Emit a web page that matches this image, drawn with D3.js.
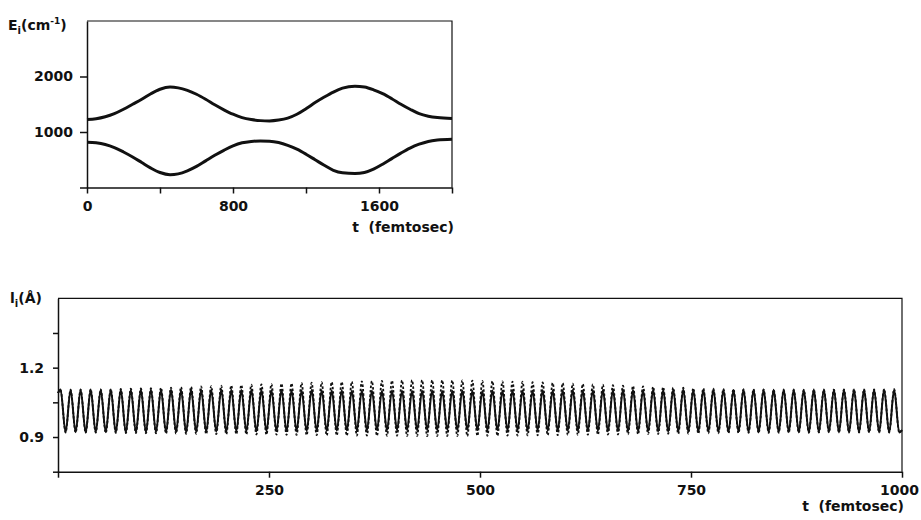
<!DOCTYPE html>
<html>
<head>
<meta charset="utf-8">
<script src="https://cdn.jsdelivr.net/npm/d3@7"></script>
<style>
  body { margin: 0; background: #fff; }
  svg text { font-family: "DejaVu Sans", sans-serif; font-weight: bold; font-size: 14px; fill: #111; }
  .axis path, .axis line { stroke: #111; stroke-width: 1.5; }
</style>
</head>
<body>
<svg id="chart" width="921" height="520"></svg>
<script>
// ---- Upper panel: mode energies E_i (cm^-1) versus time (fs) ----
const energyTime  = [0, 50, 100, 150, 200, 250, 300, 350, 400, 455, 500, 550, 600, 650, 700, 750, 800, 850, 900, 950,
                     1000, 1050, 1100, 1150, 1200, 1250, 1300, 1350, 1400, 1468, 1520, 1570, 1620, 1670, 1720, 1770, 1820, 1870, 1920, 2000];
const energyUpper = [1225, 1240, 1275, 1330, 1410, 1500, 1590, 1690, 1770, 1810, 1795, 1750, 1680, 1590, 1490, 1400, 1320, 1260, 1225, 1205,
                     1200, 1215, 1250, 1320, 1420, 1530, 1630, 1720, 1790, 1825, 1810, 1760, 1690, 1600, 1500, 1410, 1330, 1285, 1260, 1245];
const energyLower = [815, 805, 775, 720, 640, 550, 450, 350, 270, 230, 245, 300, 380, 480, 580, 670, 750, 805, 830, 840,
                     835, 810, 760, 690, 600, 500, 400, 310, 265, 252, 270, 330, 420, 520, 620, 710, 780, 830, 855, 870];
const energyXTicks = [0, 400, 800, 1200, 1600, 2000];
const energyXLabels = ["0", "", "800", "", "1600", ""];
const energyYTicks = [0, 1000, 2000];
const energyYLabels = ["", "1000", "2000"];

// ---- Lower panel: bond lengths l_i (Å) versus time (fs), given at turning points ----
const peakTimes = [3, 14.9, 26.8, 38.7, 50.6, 62.5, 74.4, 86.3, 98.2, 110.1,
  122, 133.9, 145.8, 157.7, 169.6, 181.5, 193.4, 205.3, 217.2, 229.1,
  241, 252.9, 264.8, 276.7, 288.6, 300.5, 312.4, 324.3, 336.2, 348.1,
  360, 371.9, 383.8, 395.7, 407.6, 419.5, 431.4, 443.3, 455.2, 467.1,
  479, 490.9, 502.8, 514.7, 526.6, 538.5, 550.4, 562.3, 574.2, 586.1,
  598, 609.9, 621.8, 633.7, 645.6, 657.5, 669.4, 681.3, 693.2, 705.1,
  717, 728.9, 740.8, 752.7, 764.6, 776.5, 788.4, 800.3, 812.2, 824.1,
  836, 847.9, 859.8, 871.7, 883.6, 895.5, 907.4, 919.3, 931.2, 943.1,
  955, 966.9, 978.8, 990.7];
const troughTimes = [9, 20.9, 32.8, 44.7, 56.6, 68.5, 80.4, 92.3, 104.2, 116.1,
  128, 139.9, 151.8, 163.7, 175.6, 187.5, 199.4, 211.3, 223.2, 235.1,
  247, 258.9, 270.8, 282.7, 294.6, 306.5, 318.4, 330.3, 342.2, 354.1,
  366, 377.9, 389.8, 401.7, 413.6, 425.5, 437.4, 449.3, 461.2, 473.1,
  485, 496.9, 508.8, 520.7, 532.6, 544.5, 556.4, 568.3, 580.2, 592.1,
  604, 615.9, 627.8, 639.7, 651.6, 663.5, 675.4, 687.3, 699.2, 711.1,
  723, 734.9, 746.8, 758.7, 770.6, 782.5, 794.4, 806.3, 818.2, 830.1,
  842, 853.9, 865.8, 877.7, 889.6, 901.5, 913.4, 925.3, 937.2, 949.1,
  961, 972.9, 984.8, 996.7];

const solidPeaks = [1.105, 1.104, 1.106, 1.105, 1.104, 1.106, 1.105, 1.104, 1.105, 1.106,
  1.104, 1.105, 1.103, 1.105, 1.104, 1.103, 1.105, 1.104, 1.103, 1.104,
  1.103, 1.102, 1.104, 1.102, 1.101, 1.103, 1.102, 1.101, 1.102, 1.100,
  1.101, 1.100, 1.099, 1.101, 1.100, 1.099, 1.100, 1.101, 1.099, 1.100,
  1.101, 1.100, 1.099, 1.101, 1.100, 1.102, 1.101, 1.100, 1.102, 1.101,
  1.102, 1.103, 1.101, 1.102, 1.103, 1.102, 1.104, 1.103, 1.102, 1.104,
  1.103, 1.104, 1.105, 1.103, 1.104, 1.105, 1.104, 1.103, 1.105, 1.104,
  1.105, 1.104, 1.106, 1.105, 1.104, 1.105, 1.106, 1.104, 1.105, 1.106,
  1.105, 1.104, 1.106, 1.105];
const solidTroughs = [0.920, 0.921, 0.919, 0.920, 0.921, 0.920, 0.919, 0.921, 0.920, 0.921,
  0.921, 0.922, 0.921, 0.923, 0.922, 0.924, 0.923, 0.924, 0.925, 0.924,
  0.925, 0.926, 0.925, 0.927, 0.926, 0.928, 0.927, 0.928, 0.929, 0.928,
  0.929, 0.930, 0.929, 0.930, 0.931, 0.930, 0.931, 0.930, 0.931, 0.930,
  0.931, 0.930, 0.929, 0.930, 0.929, 0.930, 0.928, 0.929, 0.928, 0.927,
  0.928, 0.927, 0.926, 0.927, 0.925, 0.926, 0.925, 0.924, 0.925, 0.924,
  0.923, 0.924, 0.923, 0.922, 0.923, 0.922, 0.921, 0.922, 0.921, 0.920,
  0.921, 0.920, 0.921, 0.920, 0.919, 0.920, 0.921, 0.920, 0.919, 0.920,
  0.921, 0.920, 0.919, 0.920];
const dashPeaks = [1.104, 1.105, 1.105, 1.106, 1.106, 1.107, 1.108, 1.109, 1.110, 1.111,
  1.113, 1.114, 1.116, 1.117, 1.119, 1.120, 1.122, 1.123, 1.125, 1.126,
  1.128, 1.129, 1.131, 1.132, 1.134, 1.135, 1.137, 1.138, 1.139, 1.140,
  1.141, 1.142, 1.143, 1.144, 1.145, 1.146, 1.146, 1.146, 1.146, 1.145,
  1.145, 1.144, 1.143, 1.142, 1.141, 1.140, 1.139, 1.137, 1.136, 1.134,
  1.133, 1.131, 1.129, 1.128, 1.126, 1.124, 1.122, 1.121, 1.119, 1.117,
  1.116, 1.114, 1.113, 1.111, 1.110, 1.109, 1.108, 1.107, 1.106, 1.106,
  1.105, 1.105, 1.104, 1.104, 1.104, 1.105, 1.105, 1.105, 1.105, 1.106,
  1.106, 1.106, 1.107, 1.107];
const dashTroughs = [0.920, 0.920, 0.919, 0.919, 0.918, 0.918, 0.917, 0.917, 0.916, 0.916,
  0.915, 0.915, 0.914, 0.914, 0.913, 0.913, 0.912, 0.912, 0.911, 0.911,
  0.910, 0.910, 0.909, 0.909, 0.908, 0.908, 0.907, 0.907, 0.906, 0.906,
  0.906, 0.905, 0.905, 0.905, 0.904, 0.904, 0.904, 0.904, 0.904, 0.904,
  0.904, 0.905, 0.905, 0.905, 0.906, 0.906, 0.907, 0.907, 0.908, 0.908,
  0.909, 0.909, 0.910, 0.910, 0.911, 0.911, 0.912, 0.912, 0.913, 0.913,
  0.914, 0.914, 0.915, 0.915, 0.916, 0.916, 0.917, 0.917, 0.918, 0.918,
  0.918, 0.919, 0.919, 0.919, 0.919, 0.920, 0.920, 0.920, 0.920, 0.920,
  0.920, 0.920, 0.920, 0.920];
const bondEnds = { start: [0, 1.09], end: [1000, 0.93] };
const bondXTicks = [0, 250, 500, 750, 1000];
const bondXLabels = ["", "250", "500", "750", "1000"];
const bondYTicks = [0.75, 0.9, 1.05, 1.2, 1.35];
const bondYLabels = ["", "0.9", "", "1.2", ""];

const svg = d3.select("#chart");

// Merge peak and trough arrays into one time-ordered series
function turningSeries(peaks, troughs) {
  const pts = [bondEnds.start];
  peakTimes.forEach((t, i) => {
    pts.push([t, peaks[i]]);
    pts.push([troughTimes[i], troughs[i]]);
  });
  pts.push(bondEnds.end);
  return pts;
}

function labelFrom(ticks, labels) {
  return v => labels[ticks.indexOf(v)] ?? "";
}

// ================= Upper panel =================
const xE = d3.scaleLinear().domain([0, 2000]).range([87, 452]);
const yE = d3.scaleLinear().domain([0, 3000]).range([187.5, 21]);

const gE = svg.append("g");
// frame (top and right)
gE.append("path")
  .attr("d", `M${xE(0)},${yE(3000)}H${xE(2000)}V${yE(0)}`)
  .attr("fill", "none").attr("stroke", "#111").attr("stroke-width", 1.2);

gE.append("g").attr("class", "axis")
  .attr("transform", `translate(0,${yE(0)})`)
  .call(d3.axisBottom(xE).tickValues(energyXTicks).tickFormat(labelFrom(energyXTicks, energyXLabels))
    .tickSize(6).tickSizeOuter(0).tickPadding(8))
  .call(g => g.selectAll("text").attr("font-size", null).attr("font-family", null));

gE.append("g").attr("class", "axis")
  .attr("transform", `translate(${xE(0)},0)`)
  .call(d3.axisLeft(yE).tickValues(energyYTicks).tickFormat(labelFrom(energyYTicks, energyYLabels))
    .tickSize(7).tickSizeOuter(0).tickPadding(7))
  .call(g => g.selectAll("text").attr("font-size", null).attr("font-family", null));

const lineE = d3.line().x(d => xE(d[0])).y(d => yE(d[1])).curve(d3.curveMonotoneX);
[energyUpper, energyLower].forEach(vals => {
  gE.append("path")
    .datum(energyTime.map((t, i) => [t, vals[i]]))
    .attr("d", lineE)
    .attr("fill", "none").attr("stroke", "#111").attr("stroke-width", 3)
    .attr("stroke-linejoin", "round");
});

// axis titles
const eTitle = svg.append("text").attr("x", 8).attr("y", 30);
eTitle.append("tspan").text("E");
eTitle.append("tspan").attr("font-size", "10px").attr("dy", 4).text("i");
eTitle.append("tspan").attr("dy", -4).text("(cm");
eTitle.append("tspan").attr("font-size", "9px").attr("dy", -6).text("-1");
eTitle.append("tspan").attr("dy", 6).text(")");

svg.append("text").attr("x", 454).attr("y", 232).attr("text-anchor", "end")
  .attr("xml:space", "preserve").text("t  (femtosec)");

// ================= Lower panel =================
const xL = d3.scaleLinear().domain([0, 1000]).range([58, 902]);
const yL = d3.scaleLinear().domain([0.75, 1.5]).range([471.7, 298.3]);

const gL = svg.append("g");
gL.append("path")
  .attr("d", `M${xL(0)},${yL(1.5)}H${xL(1000)}V${yL(0.75)}`)
  .attr("fill", "none").attr("stroke", "#111").attr("stroke-width", 1.2);

gL.append("g").attr("class", "axis")
  .attr("transform", `translate(0,${yL(0.75)})`)
  .call(d3.axisBottom(xL).tickValues(bondXTicks).tickFormat(labelFrom(bondXTicks, bondXLabels))
    .tickSize(6).tickSizeOuter(0).tickPadding(7))
  .call(g => g.selectAll("text").attr("font-size", null).attr("font-family", null))
  // keep the last label inside the drawing area
  .call(g => g.selectAll(".tick").filter(d => d === 1000).select("text").attr("dx", -3));

gL.append("g").attr("class", "axis")
  .attr("transform", `translate(${xL(0)},0)`)
  .call(d3.axisLeft(yL).tickValues(bondYTicks).tickFormat(labelFrom(bondYTicks, bondYLabels))
    .tickSize(5).tickSizeOuter(0).tickPadding(9))
  .call(g => g.selectAll("text").attr("font-size", null).attr("font-family", null));

const lineL = d3.line().x(d => xL(d[0])).y(d => yL(d[1])).curve(d3.curveMonotoneX);

gL.append("path")
  .datum(turningSeries(dashPeaks, dashTroughs))
  .attr("d", lineL)
  .attr("fill", "none").attr("stroke", "#111").attr("stroke-width", 1.8)
  .attr("stroke-dasharray", "2.5,2");

gL.append("path")
  .datum(turningSeries(solidPeaks, solidTroughs))
  .attr("d", lineL)
  .attr("fill", "none").attr("stroke", "#111").attr("stroke-width", 2);

const lTitle = svg.append("text").attr("x", 10).attr("y", 303);
lTitle.append("tspan").text("l");
lTitle.append("tspan").attr("font-size", "10px").attr("dy", 4).text("i");
lTitle.append("tspan").attr("dy", -4).text("(Å)");

svg.append("text").attr("x", 904).attr("y", 511).attr("text-anchor", "end")
  .attr("xml:space", "preserve").text("t  (femtosec)");
</script>
</body>
</html>
